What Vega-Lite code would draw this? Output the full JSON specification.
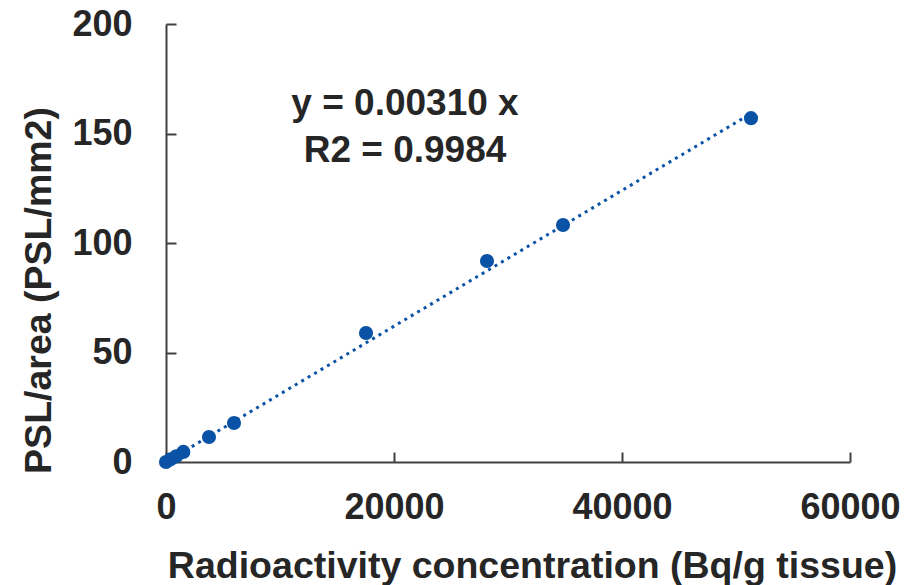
{
  "$schema": "https://vega.github.io/schema/vega-lite/v6.json",
  "width": 684,
  "height": 438,
  "autosize": "none",
  "padding": {"left": 166, "top": 24, "right": 56, "bottom": 123},
  "background": "white",
  "config": {
    "view": {"stroke": null},
    "font": "Liberation Sans"
  },
  "datasets": {
    "points": [
      {"conc": 0, "psl": 0},
      {"conc": 400, "psl": 1.2},
      {"conc": 900, "psl": 2.6},
      {"conc": 1520, "psl": 4.6},
      {"conc": 3770, "psl": 11.4},
      {"conc": 5965, "psl": 17.8},
      {"conc": 17544, "psl": 58.9},
      {"conc": 28157, "psl": 91.8},
      {"conc": 34825, "psl": 108.2},
      {"conc": 51315, "psl": 157}
    ],
    "trend": [
      {"conc": 0, "psl": 0},
      {"conc": 51315, "psl": 159.1}
    ],
    "notes": [
      {"conc": 20965, "psl": 158.4, "label": "y = 0.00310 x"},
      {"conc": 20965, "psl": 137.1, "label": "R2 = 0.9984"}
    ]
  },
  "layer": [
    {
      "data": {"name": "trend"},
      "mark": {"type": "line", "color": "#0a52a5", "strokeWidth": 3, "strokeDash": [3, 4.5]},
      "encoding": {
        "x": {
          "field": "conc", "type": "quantitative",
          "scale": {"domain": [0, 60000], "nice": false},
          "axis": {
            "title": "Radioactivity concentration (Bq/g tissue)",
            "values": [0, 20000, 40000, 60000],
            "format": "d",
            "grid": false,
            "domainColor": "#404040", "domainWidth": 2,
            "tickColor": "#404040", "tickWidth": 2, "tickSize": -10,
            "labelFont": "Liberation Sans", "labelFontWeight": "bold", "labelFontSize": 36,
            "labelColor": "#262626", "labelPadding": 38, "labelFlush": false,
            "titleFont": "Liberation Sans", "titleFontWeight": "bold", "titleFontSize": 37.5,
            "titleColor": "#262626",
            "titleX": 366, "titleY": 115, "titleBaseline": "alphabetic", "titleAlign": "center"
          }
        },
        "y": {
          "field": "psl", "type": "quantitative",
          "scale": {"domain": [0, 200], "nice": false},
          "axis": {
            "title": "PSL/area (PSL/mm2)",
            "values": [0, 50, 100, 150, 200],
            "grid": false,
            "domainColor": "#404040", "domainWidth": 2,
            "tickColor": "#404040", "tickWidth": 2, "tickSize": -10,
            "labelFont": "Liberation Sans", "labelFontWeight": "bold", "labelFontSize": 36,
            "labelColor": "#262626", "labelPadding": 44, "labelFlush": false,
            "titleFont": "Liberation Sans", "titleFontWeight": "bold", "titleFontSize": 37.5,
            "titleColor": "#262626",
            "titleX": -116, "titleY": 266, "titleBaseline": "alphabetic", "titleAlign": "center", "titleAngle": -90
          }
        }
      }
    },
    {
      "data": {"name": "points"},
      "mark": {"type": "circle", "color": "#0a52a5", "opacity": 1, "size": 200},
      "encoding": {
        "x": {"field": "conc", "type": "quantitative"},
        "y": {"field": "psl", "type": "quantitative"}
      }
    },
    {
      "data": {"name": "notes"},
      "mark": {"type": "text", "font": "Liberation Sans", "fontWeight": "bold", "fontSize": 37, "color": "#262626", "align": "center", "baseline": "alphabetic"},
      "encoding": {
        "x": {"field": "conc", "type": "quantitative"},
        "y": {"field": "psl", "type": "quantitative"},
        "text": {"field": "label", "type": "nominal"}
      }
    }
  ]
}
